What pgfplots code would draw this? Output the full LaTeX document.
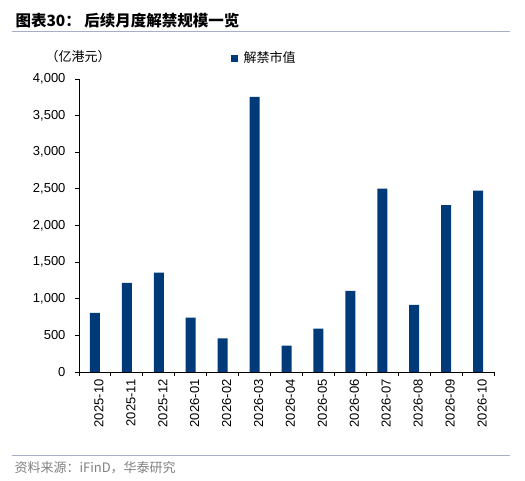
\documentclass[border=0pt]{standalone}
\usepackage{pgfplots}
\pgfplotsset{compat=1.18}
\usepackage{fontspec}
\setmainfont{Liberation Sans}
\newfontfamily\cjk{Noto Sans CJK SC}
\definecolor{barblue}{HTML}{003A78}
\definecolor{rulegray}{HTML}{A3B0C6}
\definecolor{srcgray}{HTML}{808080}
\begin{document}
\begin{tikzpicture}[x=1pt,y=1pt]
\useasboundingbox (0,0) rectangle (525,481);
% title and rules
\node[anchor=west, font={\cjk\bfseries\fontsize{15.5}{16}\selectfont}] at (12,460) {图表30：\ 后续月度解禁规模一览};
\draw[rulegray, line width=1pt] (12,449.5) -- (510,449.5);
\draw[rulegray, line width=1pt] (12,25) -- (510,25);
\node[anchor=west, text=srcgray, font={\cjk\fontsize{13}{14}\selectfont}] at (11,13) {资料来源：iFinD，华泰研究};
% unit and legend
\node[anchor=west, font={\cjk\fontsize{13}{14}\selectfont}] at (42,424) {（亿港元）};
\fill[barblue] (231,419) rectangle (238,426);
\node[anchor=west, font={\cjk\fontsize{13}{14}\selectfont}] at (240,423) {解禁市值};
\begin{axis}[
    at={(79pt,109pt)}, anchor=south west,
    scale only axis,
    width=415pt, height=293pt,
    xmin=-0.5, xmax=12.5,
    ymin=0, ymax=4000,
    axis x line*=bottom, axis y line*=left,
    axis line style={-, black, line width=0.9pt},
    tick align=outside,
    major tick length=4pt,
    tick style={black, line width=0.9pt},
    ytick={0,500,...,4000},
    scaled y ticks=false,
    /pgf/number format/1000 sep={,},
    /pgf/number format/assume math mode=true,
    yticklabel style={font=\fontsize{13}{14}\selectfont, xshift=-6pt},
    xtick={0,...,12},
    xticklabels={2025-10,2025-11,2025-12,2026-01,2026-02,2026-03,2026-04,2026-05,2026-06,2026-07,2026-08,2026-09,2026-10},
    x tick style={draw=none},
    xticklabel style={rotate=90, anchor=east, font=\fontsize{13}{14}\selectfont, yshift=-4pt},
    extra x ticks={-0.5,0.5,...,12.5},
    extra x tick labels={},
    extra x tick style={x tick style={draw=black, line width=0.9pt}},
    clip=false,
]
\addplot[ybar, bar width=10pt, fill=barblue, draw=none] coordinates {
    (0,808) (1,1215) (2,1357) (3,742) (4,460) (5,3757) (6,360)
    (7,592) (8,1107) (9,2504) (10,915) (11,2277) (12,2477)
};
\end{axis}
\end{tikzpicture}
\end{document}
